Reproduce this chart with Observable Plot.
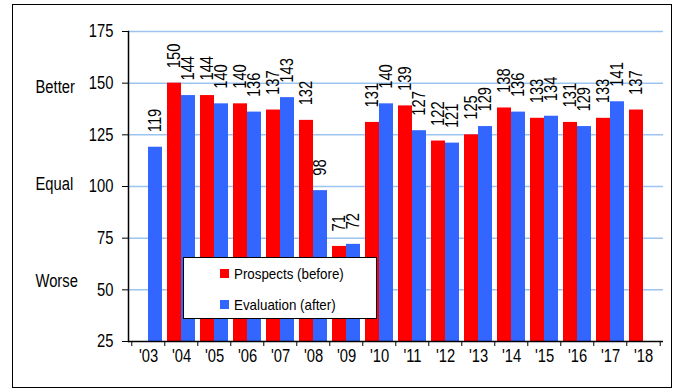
<!DOCTYPE html>
<html>
<head>
<meta charset="utf-8">
<script src="https://cdn.jsdelivr.net/npm/d3@7"></script>
<script src="https://cdn.jsdelivr.net/npm/@observablehq/plot@0.6"></script>
<style>
  html, body { margin: 0; padding: 0; background: #fff; }
  #wrap {
    position: relative; width: 681px; height: 392px; overflow: hidden;
    font-family: "Liberation Sans", Arial, sans-serif;
  }
  #border {
    position: absolute; left: 12px; top: 4px; width: 660px; height: 384px;
    border: 1.5px solid #000; box-sizing: border-box; pointer-events: none;
  }
  #chart { position: absolute; left: 0; top: 0; }
  #legend {
    position: absolute; left: 183px; top: 257px; width: 194px; height: 62px;
    box-sizing: border-box; border: 1.5px solid #000; background: #fff;
    font-size: 15px; color: #000;
  }
  #legend .row { position: absolute; left: 36px; display: flex; align-items: center; white-space: nowrap; }
  #legend .sw { width: 9px; height: 9px; margin-right: 5px; flex: none; }
  #legend .txt { display: inline-block; transform: scaleX(0.89); transform-origin: left center; }
</style>
</head>
<body>
<div id="wrap">
  <div id="chart"></div>
  <div id="legend"></div>
  <div id="border"></div>
</div>
<script>
// Survey index by year: prospects for the coming year vs. evaluation of the past one
const years = ["'03", "'04", "'05", "'06", "'07", "'08", "'09", "'10", "'11", "'12", "'13", "'14", "'15", "'16", "'17", "'18"];
const prospects  = [null, 150, 144, 140, 137, 132, 71, 131, 139, 122, 125, 138, 133, 131, 133, 137];
const evaluation = [119, 144, 140, 136, 143, 98, 72, 140, 127, 121, 129, 136, 134, 129, 141, null];
const seriesNames = ["Prospects (before)", "Evaluation (after)"];
const seriesColors = ["#ff0000", "#3366ff"];
const yTicks = [25, 50, 75, 100, 125, 150, 175];
const sideLabels = ["Better", "Equal", "Worse"];
const sideLevels = [148, 101, 54];

const rows = [];
years.forEach((year, i) => {
  if (prospects[i] != null) rows.push({year, series: 0, value: prospects[i]});
  if (evaluation[i] != null) rows.push({year, series: 1, value: evaluation[i]});
});
const before = rows.filter(d => d.series === 0);
const after = rows.filter(d => d.series === 1);
const sides = sideLabels.map((label, i) => ({label, level: sideLevels[i]}));

const W = 681, H = 392;
const mL = 128, mR = 18, mT = 31, mB = 51;
const step = (W - mL - mR) / years.length;
const pad = 0.163;
const half = step * (1 - pad) / 2;
const font = "Liberation Sans, Arial, sans-serif";
const base = yTicks[0];
const narrow = 0.82; // condensed lettering, like a narrow sans

const chart = Plot.plot({
  width: W, height: H,
  marginLeft: mL, marginRight: mR, marginTop: mT, marginBottom: mB,
  style: {fontFamily: font, fontSize: "18px", background: "transparent", color: "#000"},
  x: {type: "band", domain: years, paddingInner: pad, paddingOuter: pad / 2, axis: null},
  y: {domain: [yTicks[0], yTicks[yTicks.length - 1]], axis: null},
  marks: [
    Plot.gridY(yTicks.slice(1), {stroke: "#9cc4f0", strokeOpacity: 1, strokeWidth: 1.5}),
    Plot.barY(before, {x: "year", y1: base, y2: "value", fill: seriesColors[0], insetRight: half}),
    Plot.barY(after, {x: "year", y1: base, y2: "value", fill: seriesColors[1], insetLeft: half}),
    Plot.text(before, {x: "year", y: "value", text: d => String(d.value), rotate: -90,
      textAnchor: "start", lineAnchor: "middle", dx: -half / 2, dy: -15, fontSize: 18, fill: "#000"}),
    Plot.text(after, {x: "year", y: "value", text: d => String(d.value), rotate: -90,
      textAnchor: "start", lineAnchor: "middle", dx: half / 2, dy: -15, fontSize: 18, fill: "#000"}),
    Plot.ruleY([base], {stroke: "#000", strokeWidth: 1.5}),
    Plot.frame({anchor: "left", stroke: "#000", strokeWidth: 1.5}),
    Plot.axisY({ticks: yTicks, tickSize: 6, tickPadding: 9, fontSize: 18, label: null, stroke: "#000"}),
    // category boundary ticks under the x axis
    Plot.axisX(years, {tickSize: 5, tickFormat: () => "", dx: -step / 2, label: null, stroke: "#000"}),
    Plot.axisX(years.slice(-1), {tickSize: 5, tickFormat: () => "", dx: step / 2, label: null, stroke: "#000"}),
    Plot.axisX({tickSize: 0, tickPadding: 8, fontSize: 18, label: null}),
    Plot.text(sides, {frameAnchor: "left", y: "level", text: "label", textAnchor: "start",
      dx: -93, fontSize: 18, fill: "#000"})
  ]
});
document.getElementById("chart").appendChild(chart);

// condense all chart lettering
chart.querySelectorAll("text").forEach(t => {
  const len = t.getComputedTextLength();
  if (len > 0) {
    t.setAttribute("textLength", (len * narrow).toFixed(2));
    t.setAttribute("lengthAdjust", "spacingAndGlyphs");
  }
});

// legend
const legend = document.getElementById("legend");
seriesNames.forEach((name, i) => {
  const row = document.createElement("div");
  row.className = "row";
  row.style.top = (i === 0 ? 7 : 38) + "px";
  const sw = document.createElement("span");
  sw.className = "sw";
  sw.style.background = seriesColors[i];
  const label = document.createElement("span");
  label.className = "txt";
  label.textContent = name;
  row.appendChild(sw);
  row.appendChild(label);
  legend.appendChild(row);
});
</script>
</body>
</html>
